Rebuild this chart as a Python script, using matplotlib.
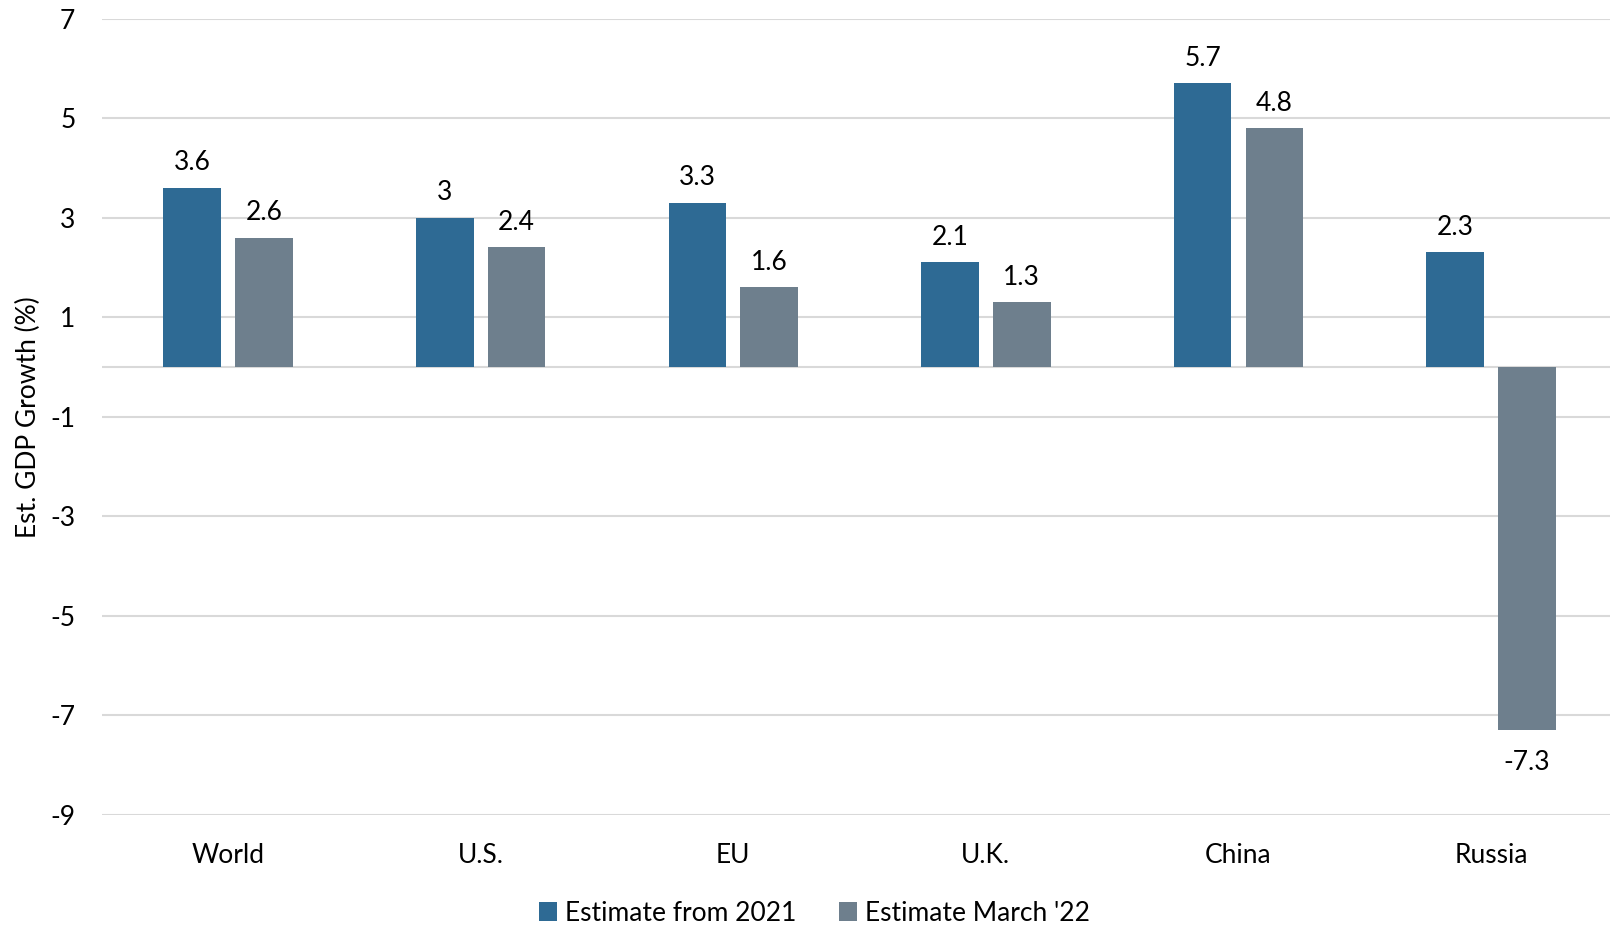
import matplotlib
matplotlib.use("Agg")
import matplotlib.pyplot as plt
import numpy as np

categories = ["World", "U.S.", "EU", "U.K.", "China", "Russia"]
est_2021 = [3.6, 3.0, 3.3, 2.1, 5.7, 2.3]
est_mar22 = [2.6, 2.4, 1.6, 1.3, 4.8, -7.3]
labels_2021 = ["3.6", "3", "3.3", "2.1", "5.7", "2.3"]
labels_mar22 = ["2.6", "2.4", "1.6", "1.3", "4.8", "-7.3"]
series_names = ["Estimate from 2021", "Estimate March '22"]
yticks = [7, 5, 3, 1, -1, -3, -5, -7, -9]

plt.rcParams['font.family'] = ['Lato', 'DejaVu Sans']

fig = plt.figure(figsize=(16.1, 9.27), dpi=100)
ax = fig.add_axes([0.0632, 0.121, 0.9414, 0.859])

c1 = "#2E6A94"
c2 = "#6E7F8D"
x = np.arange(len(categories))
w = 0.228
off = 0.142
b1 = ax.bar(x - off, est_2021, w, color=c1, label=series_names[0], zorder=3)
b2 = ax.bar(x + off, est_mar22, w, color=c2, label=series_names[1], zorder=3)

fs = 19
for bars, labs in ((b1, labels_2021), (b2, labels_mar22)):
    for r, lab in zip(bars, labs):
        h = r.get_height()
        cx = r.get_x() + r.get_width() / 2
        if h >= 0:
            ax.annotate(lab, (cx, h), xytext=(0, 9), textcoords="offset points",
                        ha="center", va="bottom", fontsize=fs)
        else:
            ax.annotate(lab, (cx, h), xytext=(0, -14), textcoords="offset points",
                        ha="center", va="top", fontsize=fs)

ax.set_xlim(-0.5, len(categories) - 0.5)
ax.set_ylim(-9, 7)
ax.set_yticks(yticks)
ax.set_yticklabels([str(t) for t in yticks], fontsize=fs)
ax.set_xticks(x)
ax.set_xticklabels(categories, fontsize=fs)
ax.tick_params(axis="both", length=0, colors="black")
ax.tick_params(axis="y", pad=19)
ax.tick_params(axis="x", pad=20)
ax.grid(axis="y", color="#D9D9D9", linewidth=1.5, zorder=0)
ax.axhline(0, color="#D9D9D9", linewidth=1.5, zorder=1)
for s in ax.spines.values():
    s.set_visible(False)
ax.set_ylabel("Est. GDP Growth (%)", fontsize=19)
ax.yaxis.set_label_coords(-0.04, 0.5)

leg = fig.legend(handles=[b1, b2], labels=series_names, loc="center",
                 bbox_to_anchor=(0.506, 0.015), ncol=2, frameon=False,
                 fontsize=fs, handlelength=0.7, handleheight=0.7,
                 handletextpad=0.3, columnspacing=1.6)

fig.savefig("out.png", dpi=100)
